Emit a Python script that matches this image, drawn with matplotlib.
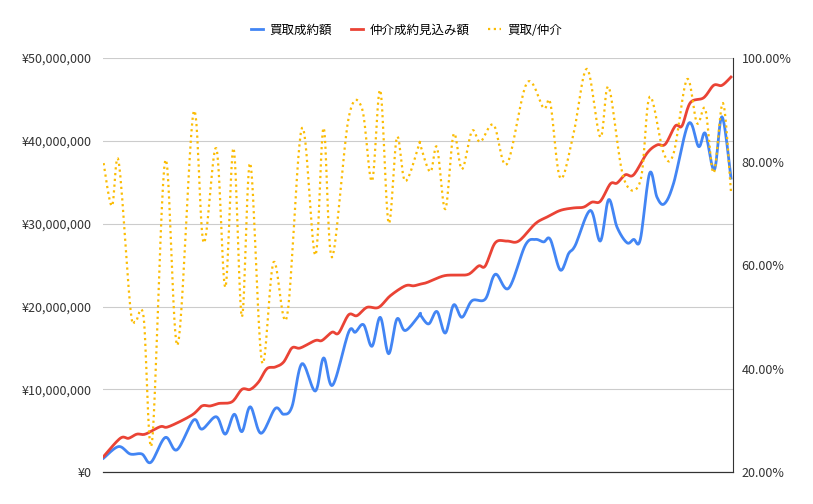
import numpy as np
import matplotlib
matplotlib.use("Agg")
import matplotlib.pyplot as plt
from matplotlib.ticker import FuncFormatter, MultipleLocator

plt.rcParams['font.family'] = ['Noto Sans CJK JP', 'DejaVu Sans']

# x positions are expressed as % of period (0..100)
def pos1(zx): return [((100 + z/3) - 103) / 6.3 for z in zx]
def pos2(zx): return [((410 + z/3) - 103) / 6.3 for z in zx]

buy_zx1 = [10,55,90,125,152,195,230,280,305,348,375,402,425,450,482,525,550,575,605,645,670,697,745,765,790,815,840,865,890,915,958]
buy_v1 = [1.7,3.1,2.2,2.2,1.2,4.2,2.7,6.3,5.2,6.7,4.6,7.0,4.9,7.9,4.7,7.7,7.0,7.9,13.1,9.8,13.8,10.5,16.9,16.9,17.8,15.2,18.7,14.3,18.5,17.1,19.0]
buy_zx2 = [30,55,80,105,130,155,185,225,255,295,345,375,400,420,450,475,495,540,570,595,620,650,670,690,718,740,762,790,835,865,885,912,935,962]
buy_v2 = [19.0,17.9,19.4,16.8,20.2,18.7,20.7,20.9,23.9,22.2,27.4,28.1,27.8,28.1,24.4,26.4,27.4,31.6,27.9,32.9,29.6,27.7,28.1,28.1,36.1,33.2,32.4,34.9,42.1,39.3,40.9,36.5,42.9,35.5]

brk_zx1 = [10,60,85,110,135,180,205,275,305,330,355,395,425,450,475,500,525,550,575,600,645,665,695,715,745,770,800,835,870,915,940,960]
brk_v1 = [1.9,4.1,4.1,4.6,4.6,5.5,5.5,6.9,8.0,8.0,8.3,8.5,10.0,10.0,10.9,12.5,12.7,13.3,15.0,15.0,15.9,15.9,16.9,16.8,19.0,18.9,19.9,19.9,21.3,22.5,22.5,22.7]
brk_zx2 = [50,100,140,175,205,225,255,290,325,375,410,450,490,520,545,570,600,620,645,670,710,740,765,795,815,840,880,910,935,962]
brk_v2 = [22.9,23.7,23.8,23.9,24.9,24.9,27.7,27.9,27.9,30.0,30.8,31.6,31.9,32.0,32.6,32.7,34.8,34.9,35.9,35.9,38.5,39.5,39.6,41.8,41.8,44.6,45.2,46.7,46.7,47.7]

rat_zx1 = [10,35,55,90,105,130,155,195,232,280,310,348,375,400,425,450,485,520,560,605,645,670,695,745,785,815,840,865,890,915,958]
rat_v1 = [79.7,71.4,80.1,51.9,49.0,50.0,25.6,80.3,44.5,89.6,64.3,82.6,55.7,82.6,50.0,79.7,41.3,60.6,50.0,86.5,61.9,86.5,61.5,88.4,90.3,76.2,93.8,68.1,84.7,76.2,83.6]
rat_zx2 = [30,60,80,105,130,155,185,210,250,290,350,400,420,450,490,530,570,595,640,690,718,760,790,830,860,885,910,938,962]
rat_v2 = [83.2,78.0,82.8,70.8,85.3,78.5,85.9,83.8,87.1,79.5,95.2,90.3,91.3,76.8,85.5,97.9,84.7,94.4,76.8,76.2,92.5,81.6,81.6,95.9,87.4,90.1,77.8,91.3,74.1]

def smooth(x, y, n=12):
    x = np.asarray(x, float); y = np.asarray(y, float)
    P = np.column_stack([x, y])
    P = np.vstack([P[0], P, P[-1]])
    out = []
    for i in range(1, len(P) - 2):
        p0, p1, p2, p3 = P[i-1], P[i], P[i+1], P[i+2]
        for t in np.linspace(0, 1, n, endpoint=False):
            t2, t3 = t*t, t*t*t
            out.append(0.5*((2*p1) + (-p0+p2)*t + (2*p0-5*p1+4*p2-p3)*t2 + (-p0+3*p1-3*p2+p3)*t3))
    out.append(P[-2])
    out = np.array(out)
    return out[:, 0], out[:, 1]

fig = plt.figure(figsize=(8.13, 5.04), dpi=100)
ax = fig.add_axes([0.127, 0.063, 0.775, 0.822])
ax2 = ax.twinx()

bx, by = smooth(pos1(buy_zx1) + pos2(buy_zx2), buy_v1 + buy_v2)
rx, ry = smooth(pos1(brk_zx1) + pos2(brk_zx2), brk_v1 + brk_v2)
qx, qy = smooth(pos1(rat_zx1) + pos2(rat_zx2), rat_v1 + rat_v2)

l1, = ax.plot(bx, np.array(by)*1e6, color='#4285F4', lw=2, label='買取成約額', zorder=3)
l2, = ax.plot(rx, np.array(ry)*1e6, color='#EA4335', lw=2, label='仲介成約見込み額', zorder=3)
l3, = ax2.plot(qx, qy, color='#FBBC04', lw=1.6, ls=(0, (1, 1.6)), label='買取/仲介', zorder=2)

ax.set_xlim(0, 100)
ax.set_ylim(0, 50e6)
ax2.set_ylim(20, 100)
ax.yaxis.set_major_locator(MultipleLocator(10e6))
ax2.yaxis.set_major_locator(MultipleLocator(20))
ax.yaxis.set_major_formatter(FuncFormatter(lambda v, p: f"¥{int(v):,}"))
ax2.yaxis.set_major_formatter(FuncFormatter(lambda v, p: f"{v:.2f}%"))
ax.grid(axis='y', color='#cccccc', lw=0.8)
ax.set_xticks([])
for a in (ax, ax2):
    a.tick_params(length=0, labelsize=9, colors='#333333')
    for s in ('top', 'left'):
        a.spines[s].set_visible(False)
    a.spines['right'].set_visible(False)
    a.spines['bottom'].set_color('#333333')
ax2.spines['right'].set_visible(True)
ax2.spines['right'].set_color('#333333')
ax.tick_params(axis='y', pad=8)
ax2.tick_params(axis='y', pad=6)

leg = fig.legend(handles=[l1, l2, l3], loc='center', bbox_to_anchor=(0.5, 0.94), ncol=3,
                 frameon=False, fontsize=9, handlelength=1.0, columnspacing=1.5, handletextpad=0.5)
fig.savefig('out.png', dpi=100)
